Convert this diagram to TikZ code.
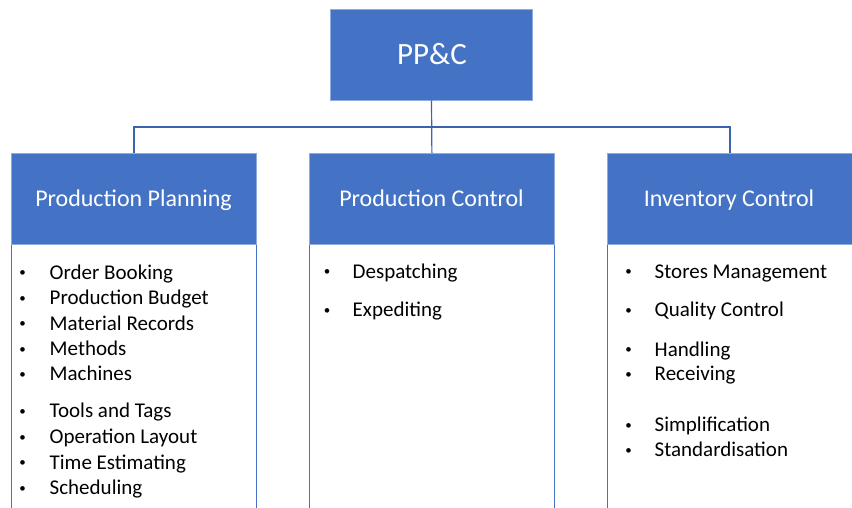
\documentclass[tikz,border=0pt]{standalone}
\usepackage{fontspec}
\setmainfont{Carlito}
\definecolor{obl}{HTML}{4472C4}
\definecolor{cline}{HTML}{3B64AD}
\begin{document}
\begin{tikzpicture}[x=1pt,y=-1pt,
  hbox/.style={draw=obl!60!white,line width=0.8pt,fill=obl,text=white,inner sep=0pt,minimum height=91pt,font=\fontsize{24}{28}\selectfont},
  bbox/.style={draw=obl,line width=0.8pt,fill=white,inner sep=0pt},
  conn/.style={draw=cline,line width=1.2pt},
  itm/.style={anchor=base west,inner sep=0pt,font=\fontsize{21}{24}\selectfont},
  bul/.style={anchor=base,inner sep=0pt,font=\fontsize{13}{15}\selectfont}]
\useasboundingbox (0,0) rectangle (852,508);
\clip (0,0) rectangle (852,508);
% top
\node[hbox,minimum width=202pt,minimum height=91pt,font=\fontsize{31}{36}\selectfont] (ppc) at (431.5,54.5) {};
\node[anchor=base,inner sep=0pt,text=white,font=\fontsize{31}{36}\selectfont] (ppct) at (432,64.3) {PP\&C};
% bodies
\node[bbox,anchor=north west,minimum width=245pt,minimum height=280pt] (b1) at (11,244) {};
\node[bbox,anchor=north west,minimum width=245pt,minimum height=280pt] (b2) at (309,244) {};
\node[bbox,anchor=north west,minimum width=245pt,minimum height=280pt] (b3) at (607,244) {};
% headers
\node[hbox,anchor=north west,minimum width=245pt] (h1) at (11,153) {};
\node[hbox,anchor=north west,minimum width=245pt] (h2) at (309,153) {};
\node[hbox,anchor=north west,minimum width=245pt] (h3) at (607,153) {};
\node[anchor=base,inner sep=0pt,text=white,font=\fontsize{24}{28}\selectfont] (h1t) at (133.5,206.7) {Production Planning};
\node[anchor=base,inner sep=0pt,text=white,font=\fontsize{24}{28}\selectfont] (h2t) at (431.5,206.7) {Production Control};
\node[anchor=base,inner sep=0pt,text=white,font=\fontsize{24}{28}\selectfont] (h3t) at (729,206.7) {Inventory Control};
% connectors
\coordinate (j) at (431.5,127);
\draw[conn] (h1.north) |- (j) -| (h3.north);
\draw[conn] (ppc.south) -- (h2.north);
% left list
\foreach \t/\y [count=\i] in {Order Booking/279.3,Production Budget/304.7,Material Records/330.1,Methods/355.5,Machines/380.9,Tools and Tags/417.7,Operation Layout/443.5,Time Estimating/469,Scheduling/494.5}{
  \node[bul] (lb\i) at (22.5,\y-2.5) {•};
  \node[itm] (lt\i) at (49.5,\y) {\t};
}
% middle list
\foreach \t/\y [count=\i] in {Despatching/278.3,Expediting/316.7}{
  \node[bul] (mb\i) at (327,\y-2.5) {•};
  \node[itm] (mt\i) at (352.5,\y) {\t};
}
% right list
\foreach \t/\y [count=\i] in {Stores Management/278.3,Quality Control/316.7,Handling/356,Receiving/380.7,Simplification/431.7,Standardisation/456.7}{
  \node[bul] (rb\i) at (628.5,\y-2.5) {•};
  \node[itm] (rt\i) at (654.5,\y) {\t};
}
\end{tikzpicture}
\end{document}
